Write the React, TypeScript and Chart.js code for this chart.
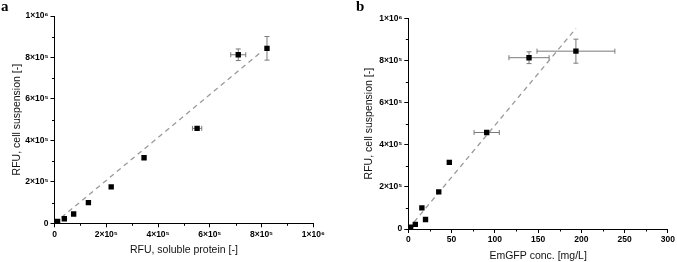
import React, { useEffect, useRef } from "react";
import { Chart, registerables } from "chart.js";

Chart.register(...registerables);

// Shared response: RFU of the cell suspension for each sample
const cellRfu = [4e3, 9e3, 22e3, 45e3, 100e3, 176e3, 316e3, 458e3, 813e3, 844e3];
const cellRfuErr = [0, 0, 0, 0, 0, 0, 0, 0, 28e3, 57e3];

// Panel a: RFU of the soluble protein fraction
const solubleRfu = [6e3, 12e3, 38e3, 74e3, 131e3, 219e3, 346e3, 551e3, 710e3, 821e3];
const solubleRfuErr = [0, 0, 0, 0, 0, 0, 0, 18e3, 29e3, 4e3];

// Panel b: EmGFP concentration in mg/L
const emgfpConc = [1.5, 2.7, 8.1, 19.9, 15.7, 35.2, 47.4, 90.6, 139.5, 193.7];
const emgfpConcErr = [0, 0, 0, 0, 0, 0, 2, 14.6, 23.2, 45];

// Linear fits (start and end of the dashed lines)
const fitAx = [0, 8.0e5];
const fitAy = [0, 8.28e5];
const fitBx = [0, 193.7];
const fitBy = [0, 9.52e5];

const SUP: Record<string, string> = {
  "0": "⁰", "1": "¹", "2": "²", "3": "³", "4": "⁴",
  "5": "⁵", "6": "⁶", "7": "⁷", "8": "⁸", "9": "⁹",
};

function sciLabel(v: number): string {
  if (v === 0) return "0";
  const exp = Math.floor(Math.log10(Math.abs(v)) + 1e-9);
  const mant = Math.round(v / Math.pow(10, exp));
  return `${mant}×10${String(exp).split("").map((c) => SUP[c] ?? c).join("")}`;
}

const FONT = "Arial, 'Liberation Sans', 'DejaVu Sans', sans-serif";

// Draws x/y error bars with end caps for the scatter dataset (index 0)
const errorBarsPlugin = {
  id: "errorBars",
  beforeDatasetsDraw(chart: any) {
    const { ctx, scales } = chart;
    const xs = scales.x;
    const ys = scales.y;
    const pts = chart.data.datasets[0].data as any[];
    const cap = 2.5;
    ctx.save();
    ctx.strokeStyle = "#7a7a7a";
    ctx.lineWidth = 1;
    for (const p of pts) {
      const px = xs.getPixelForValue(p.x);
      const py = ys.getPixelForValue(p.y);
      if (p.xErr) {
        const l = xs.getPixelForValue(p.x - p.xErr);
        const r = xs.getPixelForValue(p.x + p.xErr);
        ctx.beginPath();
        ctx.moveTo(l, py);
        ctx.lineTo(r, py);
        ctx.moveTo(l, py - cap);
        ctx.lineTo(l, py + cap);
        ctx.moveTo(r, py - cap);
        ctx.lineTo(r, py + cap);
        ctx.stroke();
      }
      if (p.yErr) {
        const t = ys.getPixelForValue(p.y + p.yErr);
        const b = ys.getPixelForValue(p.y - p.yErr);
        ctx.beginPath();
        ctx.moveTo(px, t);
        ctx.lineTo(px, b);
        ctx.moveTo(px - cap, t);
        ctx.lineTo(px + cap, t);
        ctx.moveTo(px - cap, b);
        ctx.lineTo(px + cap, b);
        ctx.stroke();
      }
    }
    ctx.restore();
  },
};

// Short minor ticks halfway between the labelled major ticks
const minorTicksPlugin = {
  id: "minorTicks",
  afterDraw(chart: any) {
    const { ctx, scales, chartArea } = chart;
    ctx.save();
    ctx.strokeStyle = "#000";
    ctx.lineWidth = 1;
    const len = 2.5;
    for (const key of ["x", "y"]) {
      const s = scales[key];
      const ticks = s.ticks.map((t: any) => t.value);
      for (let i = 0; i < ticks.length - 1; i++) {
        const v = (ticks[i] + ticks[i + 1]) / 2;
        const p = Math.round(s.getPixelForValue(v)) + 0.5;
        ctx.beginPath();
        if (key === "x") {
          ctx.moveTo(p, chartArea.bottom);
          ctx.lineTo(p, chartArea.bottom + len);
        } else {
          ctx.moveTo(chartArea.left, p);
          ctx.lineTo(chartArea.left - len, p);
        }
        ctx.stroke();
      }
    }
    ctx.restore();
  },
};

interface PanelProps {
  width: number;
  xs: number[];
  xErr: number[];
  fitX: number[];
  fitY: number[];
  xMax: number;
  xStep: number;
  xSci: boolean;
  xTitle: string;
  yAxisWidth: number;
  xAxisHeight: number;
  pad: { top: number; right: number };
  yTitlePad: number;
  xTitlePad: number;
}

function Panel(props: PanelProps) {
  const ref = useRef<HTMLCanvasElement | null>(null);
  useEffect(() => {
    if (!ref.current) return;
    const points = props.xs.map((x, i) => ({
      x,
      y: cellRfu[i],
      xErr: props.xErr[i],
      yErr: cellRfuErr[i],
    }));
    const fit = props.fitX.map((x, i) => ({ x, y: props.fitY[i] }));
    const axisCommon = {
      type: "linear" as const,
      min: 0,
      grid: {
        display: true,
        drawOnChartArea: false,
        drawTicks: true,
        tickLength: 4,
        color: "#000",
        lineWidth: 1,
      },
      border: { display: true, color: "#000", width: 1 },
    };
    const tickFont = { family: FONT, size: 8.5, weight: "bold" as const };
    const titleFont = { family: FONT, size: 10.5 };
    const chart = new Chart(ref.current, {
      type: "scatter",
      data: {
        datasets: [
          {
            data: points,
            pointStyle: "rect",
            pointRadius: 3.8,
            pointHoverRadius: 3.8,
            backgroundColor: "#000",
            borderWidth: 0,
            showLine: false,
          },
          {
            data: fit,
            showLine: true,
            pointRadius: 0,
            borderColor: "#9a9a9a",
            borderWidth: 1.3,
            borderDash: [5, 4],
            fill: false,
          },
        ],
      } as any,
      options: {
        animation: false,
        responsive: false,
        devicePixelRatio: 1,
        events: [],
        layout: { padding: { left: 0, right: props.pad.right, top: props.pad.top, bottom: 0 } },
        plugins: {
          legend: { display: false },
          tooltip: { enabled: false },
        },
        scales: {
          x: {
            ...axisCommon,
            position: "bottom",
            max: props.xMax,
            afterFit: (s: any) => {
              s.height = props.xAxisHeight;
            },
            ticks: {
              stepSize: props.xStep,
              padding: 2,
              color: "#000",
              font: tickFont,
              maxRotation: 0,
              autoSkip: false,
              callback: (v: any) => (props.xSci ? sciLabel(Number(v)) : String(v)),
            },
            title: {
              display: true,
              text: props.xTitle,
              color: "#111",
              font: titleFont,
              padding: { top: 0, bottom: props.xTitlePad },
            },
          },
          y: {
            ...axisCommon,
            position: "left",
            max: 1e6,
            afterFit: (s: any) => {
              s.width = props.yAxisWidth;
            },
            ticks: {
              stepSize: 2e5,
              padding: 2,
              color: "#000",
              font: tickFont,
              autoSkip: false,
              callback: (v: any) => sciLabel(Number(v)),
            },
            title: {
              display: true,
              text: "RFU, cell suspension [-]",
              color: "#111",
              font: titleFont,
              padding: { top: props.yTitlePad, bottom: 0 },
            },
          },
        },
      } as any,
      plugins: [errorBarsPlugin, minorTicksPlugin],
    });
    return () => chart.destroy();
  }, []);
  return (
    <canvas
      ref={ref}
      width={props.width}
      height={262}
      style={{ width: props.width, height: 262, display: "block" }}
    />
  );
}

const letterStyle: React.CSSProperties = {
  position: "absolute",
  top: -1,
  fontFamily: "'Liberation Serif', 'Times New Roman', serif",
  fontSize: 15,
  fontWeight: "bold",
  lineHeight: "15px",
  color: "#000",
};

export default function App() {
  return (
    <div
      style={{
        position: "fixed",
        left: 0,
        top: 0,
        width: 677,
        height: 262,
        background: "#fff",
        overflow: "hidden",
      }}
    >
      <div style={{ position: "absolute", left: 0, top: 0 }}>
        <Panel
          width={338}
          xs={solubleRfu}
          xErr={solubleRfuErr}
          fitX={fitAx}
          fitY={fitAy}
          xMax={1e6}
          xStep={2e5}
          xSci={true}
          xTitle="RFU, soluble protein [-]"
          yAxisWidth={54.5}
          xAxisHeight={38.7}
          pad={{ top: 16, right: 24.7 }}
          yTitlePad={10.5}
          xTitlePad={6}
        />
      </div>
      <div style={{ position: "absolute", left: 338, top: 0 }}>
        <Panel
          width={339}
          xs={emgfpConc}
          xErr={emgfpConcErr}
          fitX={fitBx}
          fitY={fitBy}
          xMax={300}
          xStep={50}
          xSci={false}
          xTitle="EmGFP conc. [mg/L]"
          yAxisWidth={70.3}
          xAxisHeight={33}
          pad={{ top: 18.3, right: 7 }}
          yTitlePad={25}
          xTitlePad={0}
        />
      </div>
      <div style={{ ...letterStyle, left: 1 }}>a</div>
      <div style={{ ...letterStyle, left: 356 }}>b</div>
    </div>
  );
}
